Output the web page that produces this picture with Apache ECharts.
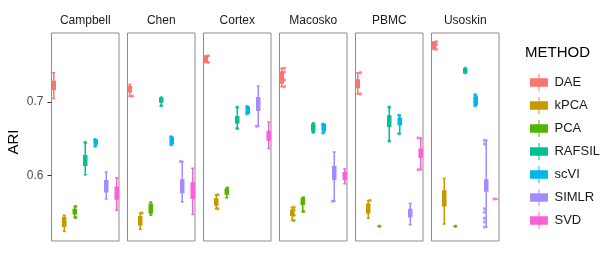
<!DOCTYPE html>
<html>
<head>
<meta charset="utf-8">
<script src="https://cdn.jsdelivr.net/npm/echarts@6/dist/echarts.min.js"></script>
<style>html,body{margin:0;padding:0;background:#fff;}#c{width:615px;height:260px;}</style>
</head>
<body>
<div id="c"></div>
<script>
const methods = ['DAE','kPCA','PCA','RAFSIL','scVI','SIMLR','SVD'];
const colors = ['#F8766D','#C49A00','#53B400','#00C094','#00B6EB','#A58AFF','#FB61D7'];
const datasets = ['Campbell','Chen','Cortex','Macosko','PBMC','Usoskin'];
const yTicks = [0.6, 0.7];

// [min, Q1, median, Q3, max] per method
const campbellStats = [[0.705,0.717,0.723,0.728,0.740],[0.524,0.531,0.537,0.543,0.546],[0.543,0.548,0.552,0.554,0.558],[0.601,0.614,0.621,0.627,0.645],[0.640,0.643,0.646,0.648,0.649],[0.568,0.578,0.586,0.593,0.605],[0.553,0.568,0.576,0.584,0.597]];
const chenStats = [[0.708,0.714,0.718,0.721,0.724],[0.527,0.533,0.539,0.544,0.549],[0.546,0.549,0.555,0.561,0.564],[0.695,0.700,0.704,0.705,0.706],[0.642,0.644,0.647,0.651,0.653],[0.564,0.577,0.586,0.594,0.619],[0.547,0.569,0.581,0.590,0.610]];
const cortexStats = [[0.754,0.755,0.758,0.762,0.763],[0.555,0.560,0.564,0.568,0.574],[0.570,0.575,0.578,0.581,0.583],[0.664,0.672,0.676,0.680,0.693],[0.684,0.685,0.689,0.693,0.694],[0.667,0.689,0.698,0.706,0.722],[0.637,0.648,0.654,0.660,0.673]];
const macoskoStats = [[0.721,0.726,0.730,0.741,0.746],[0.539,0.546,0.549,0.553,0.557],[0.551,0.561,0.565,0.568,0.570],[0.659,0.661,0.665,0.669,0.671],[0.658,0.661,0.665,0.670,0.670],[0.565,0.595,0.605,0.612,0.632],[0.589,0.595,0.600,0.604,0.609]];
const pbmcStats = [[0.711,0.720,0.725,0.730,0.740],[0.542,0.549,0.555,0.561,0.566],[0.531,0.531,0.531,0.531,0.531],[0.647,0.667,0.676,0.681,0.693],[0.657,0.669,0.675,0.678,0.682],[0.533,0.544,0.549,0.554,0.562],[0.608,0.625,0.630,0.636,0.651]];
const usoskinStats = [[0.772,0.774,0.778,0.781,0.782],[0.534,0.559,0.569,0.579,0.596],[0.531,0.531,0.531,0.531,0.531],[0.740,0.740,0.743,0.745,0.746],[0.695,0.697,0.702,0.707,0.710],[0.530,0.579,0.587,0.594,0.648],[0.568,0.568,0.568,0.568,0.568]];

// individual points drawn per method
const campbellPoints = [[],[],[0.543,0.558],[0.645],[0.640,0.649],[],[]];
const chenPoints = [[0.708],[0.549],[],[0.695,0.706],[0.642,0.653],[0.619],[]];
const cortexPoints = [[0.754,0.763],[0.555,0.574],[0.583],[0.664,0.693],[0.684,0.694],[0.667],[]];
const macoskoPoints = [[0.721,0.730,0.741,0.746],[0.539,0.546,0.553,0.557],[0.551,0.570],[0.659,0.671],[0.658,0.670],[0.565],[]];
const pbmcPoints = [[0.711,0.740],[0.566],[0.531],[0.647,0.693],[0.657,0.682],[],[0.608,0.651]];
const usoskinPoints = [[0.772,0.778,0.782],[],[0.531],[0.740,0.746],[0.695,0.700,0.705,0.710],[0.648,0.643,0.555,0.550,0.542,0.537,0.530],[0.568]];

const facetStats = [campbellStats, chenStats, cortexStats, macoskoStats, pbmcStats, usoskinStats];
const facetPoints = [campbellPoints, chenPoints, cortexPoints, macoskoPoints, pbmcPoints, usoskinPoints];

const PANEL_LEFT = 51.5, PANEL_STEP = 76, PANEL_W = 67.5, PANEL_TOP = 33, PANEL_H = 208;
const font = 'Liberation Sans, Arial, sans-serif';

const grid = [], xAxis = [], yAxis = [], series = [], graphic = [];
datasets.forEach((d, f) => {
  const left = PANEL_LEFT + f * PANEL_STEP;
  grid.push({left: left, top: PANEL_TOP, width: PANEL_W, height: PANEL_H, show: true, borderColor: '#8c8c8c', borderWidth: 1, backgroundColor: 'transparent'});
  xAxis.push({type: 'category', gridIndex: f, data: methods, axisLine: {show: false}, axisTick: {show: false}, axisLabel: {show: false}, splitLine: {show: false}});
  yAxis.push({type: 'value', gridIndex: f, min: 0.511, max: 0.794,
    axisLine: {show: false},
    axisTick: {show: f === 0, length: 4, lineStyle: {color: '#333'}, customValues: yTicks},
    axisLabel: {show: f === 0, customValues: yTicks, fontSize: 12, color: '#4d4d4d', fontFamily: font, margin: 8, formatter: v => v.toFixed(1)},
    splitLine: {show: false}});
  graphic.push({type: 'text', x: left + PANEL_W / 2, y: 21, style: {text: d, font: '12px ' + font, fill: '#1a1a1a', textAlign: 'center', textVerticalAlign: 'middle'}});
  methods.forEach((m, i) => {
    const s = facetStats[f][i];
    series.push({type: 'boxplot', name: m, xAxisIndex: f, yAxisIndex: f, encode: {x: 0, y: [1, 2, 3, 4, 5]},
      boxWidth: [3, 3], silent: true,
      itemStyle: {color: colors[i], borderColor: colors[i], borderWidth: 1.5},
      data: [[m, s[0], s[1], s[2], s[3], s[4]]]});
    const pts = facetPoints[f][i];
    if (pts.length) {
      series.push({type: 'scatter', name: m, xAxisIndex: f, yAxisIndex: f, symbolSize: 3.5, silent: true,
        itemStyle: {color: colors[i]}, data: pts.map(v => [m, v])});
    }
  });
});

graphic.push({type: 'text', x: 14, y: 142, rotation: Math.PI / 2, style: {text: 'ARI', font: '15px ' + font, fill: '#000', textAlign: 'center', textVerticalAlign: 'middle'}});
graphic.push({type: 'text', x: 525, y: 53, style: {text: 'METHOD', font: '15px ' + font, fill: '#000', textAlign: 'left', textVerticalAlign: 'middle'}});

const option = {
  animation: false,
  backgroundColor: '#fff',
  grid, xAxis, yAxis, series, graphic,
  legend: {
    orient: 'vertical', left: 525, top: 69, itemWidth: 19, itemHeight: 17, itemGap: 6,
    icon: 'path://M0,4.5H19V13.5H0Z M9,0H10V18H9Z',
    data: methods,
    itemStyle: {borderWidth: 0},
    textStyle: {fontSize: 13, color: '#1a1a1a', fontFamily: font, padding: [0, 0, 0, 1]},
    selectedMode: false
  }
};
const chart = echarts.init(document.getElementById('c'), null, {renderer: 'canvas'});
chart.setOption(option);
</script>
</body>
</html>
